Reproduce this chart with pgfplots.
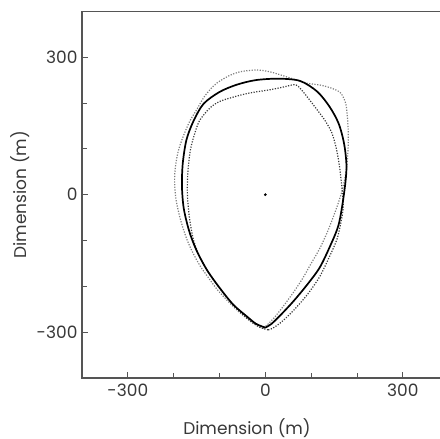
\documentclass[border=0pt]{standalone}
\usepackage{fontspec}
\setmainfont{Poppins}
\usepackage{pgfplots}
\pgfplotsset{compat=1.18}
\definecolor{axgray}{HTML}{555555}
\definecolor{txtgray}{HTML}{383838}
\definecolor{lightdot}{HTML}{7E7E7E}
\definecolor{darkdot}{HTML}{3A3A3A}
\begin{document}
\begin{tikzpicture}
\begin{axis}[
  name=ax,
  scale only axis,
  width=366.7pt, height=366.7pt,
  xmin=-400, xmax=400, ymin=-400, ymax=400,
  axis line style={axgray, line width=1.1pt},
  xtick={-300,0,300}, ytick={-300,0,300},
  xticklabels={{-300},{0},{300}}, yticklabels={{-300},{0},{300}},
  minor xtick={-200,-100,100,200}, minor ytick={-200,-100,100,200},
  tick style={axgray, line width=0.9pt},
  major tick length=6pt, minor tick length=5pt,
  tick align=inside,
  xtick pos=bottom, ytick pos=left,
  ticklabel style={font=\fontsize{17}{19}\selectfont, text=txtgray},
  xticklabel style={yshift=-2pt},
  yticklabel style={xshift=-1pt},
  xlabel={Dimension (m)}, ylabel={Dimension (m)},
  label style={font=\fontsize{17}{19}\selectfont, text=txtgray},
  xlabel style={at={(axis description cs:0.45,-0.136)}, anchor=center},
  ylabel style={at={(axis description cs:-0.168,0.5)}, anchor=center, rotate=0},
  clip=false,
]
% light dotted outline
\addplot[lightdot, line width=1.2pt, dash pattern=on 1.2pt off 1.5pt, smooth, tension=0.5] coordinates {
(-4,-292) (-30,-277) (-55,-258) (-80,-234) (-105,-207) (-125,-180) (-142,-156)
(-158,-127) (-171,-98) (-185,-55) (-195,-10) (-198,30) (-196,62) (-190,95)
(-180,125) (-165,160) (-150,185) (-135,211) (-120,230) (-105,244) (-80,259)
(-55,268) (-20,272) (10,268) (40,259) (62,252) (91,243) (120,239) (145,232)
(164,222) (175,200) (179,170) (181,130) (180,90) (176,50) (168,10) (155,-30)
(138,-75) (120,-115) (100,-150) (80,-185) (60,-215) (38,-245) (18,-270) (-4,-292)
};
% dark dotted outline
\addplot[darkdot, line width=1.2pt, dash pattern=on 1.2pt off 1.5pt, smooth, tension=0.5] coordinates {
(6,-295) (-15,-288) (-40,-270) (-76,-234) (-110,-190) (-136,-150) (-155,-105)
(-165,-55) (-170,0) (-169,50) (-163,100) (-152,140) (-142,164) (-120,190)
(-98,204) (-62,215) (-33,222) (11,229) (45,236) (62,240) (72,236) (90,215)
(113,185) (130,162) (145,135) (155,100) (162,60) (167,15) (170,-25) (165,-60)
(156,-98) (140,-135) (118,-180) (90,-220) (62,-252) (35,-278) (15,-292) (6,-295)
};
% solid thick outline
\addplot[black, line width=1.7pt, smooth, tension=0.5] coordinates {
(0,-290) (-20,-282) (-40,-266) (-70,-240) (-100,-203) (-127,-165) (-150,-122)
(-166,-80) (-178,-30) (-182,20) (-180,70) (-172,120) (-157,160) (-135,198)
(-100,224) (-62,240) (-20,250) (30,253) (76,248) (113,225) (140,192) (160,155)
(172,110) (177,60) (172,5) (160,-65) (140,-115) (118,-160) (90,-198) (60,-234)
(30,-266) (12,-283) (0,-290)
};
% centre point
\addplot[only marks, mark=*, mark size=1.2pt, black] coordinates {(0,0)};
\end{axis}
\pgfresetboundingbox
\path[use as bounding box] (ax.south west) ++(-82pt,-61pt) rectangle ++(440pt,439pt);
\end{tikzpicture}
\end{document}
